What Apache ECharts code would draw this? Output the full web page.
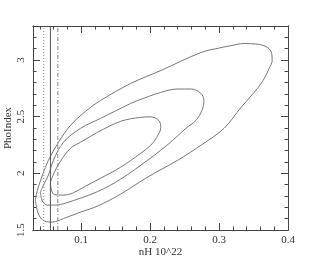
<!DOCTYPE html>
<html>
<head>
<meta charset="utf-8">
<script src="https://cdn.jsdelivr.net/npm/echarts@6/dist/echarts.min.js"></script>
<style>
  html, body { margin: 0; padding: 0; background: #fff; }
  #chart { width: 320px; height: 256px; }
</style>
</head>
<body>
<div id="chart"></div>
<script>
// tick values
var xMajor = [0.1, 0.2, 0.3, 0.4];
var xMinor = [0.04, 0.06, 0.08, 0.12, 0.14, 0.16, 0.18, 0.22, 0.24, 0.26, 0.28, 0.32, 0.34, 0.36, 0.38];
var yMajor = [1.5, 2, 2.5, 3];
var yMinor = [1.6, 1.7, 1.8, 1.9, 2.1, 2.2, 2.3, 2.4, 2.6, 2.7, 2.8, 2.9, 3.1, 3.2];

// best fit and its bounds on nH (dotted, solid, dash-dot)
var nhLines = [0.0456, 0.0553, 0.066];

// confidence contours, [nH, PhoIndex]
var contourOuter = [
  [0.0335, 1.764], [0.0378, 1.641], [0.0466, 1.579], [0.0582, 1.570], [0.0742, 1.601],
  [0.0990, 1.658], [0.1237, 1.711], [0.1572, 1.817], [0.1936, 1.957], [0.2154, 2.032],
  [0.2402, 2.116], [0.2737, 2.248], [0.3071, 2.397], [0.3319, 2.582], [0.3508, 2.714],
  [0.3639, 2.819], [0.3726, 2.925], [0.3770, 2.995], [0.3755, 3.074], [0.3683, 3.118],
  [0.3552, 3.140], [0.3362, 3.145], [0.3173, 3.127], [0.3028, 3.109], [0.2737, 3.066],
  [0.2154, 2.907], [0.1718, 2.793], [0.1281, 2.643], [0.1063, 2.547], [0.0844, 2.423],
  [0.0670, 2.274], [0.0524, 2.116], [0.0437, 1.984], [0.0364, 1.852], [0.0335, 1.764]
];
var contourMiddle = [
  [0.0408, 1.834], [0.0437, 1.755], [0.0509, 1.720], [0.0626, 1.720], [0.0771, 1.737],
  [0.1237, 1.839], [0.1572, 1.949], [0.1965, 2.116], [0.2154, 2.204], [0.2329, 2.292],
  [0.2518, 2.397], [0.2664, 2.467], [0.2751, 2.555], [0.2780, 2.643], [0.2737, 2.705],
  [0.2591, 2.744], [0.2402, 2.744], [0.2154, 2.714], [0.1820, 2.643], [0.1718, 2.617],
  [0.1281, 2.485], [0.0990, 2.397], [0.0742, 2.274], [0.0597, 2.116], [0.0524, 1.984],
  [0.0451, 1.896], [0.0408, 1.834]
];
var contourInner = [
  [0.0553, 1.922], [0.0568, 1.852], [0.0611, 1.812], [0.0728, 1.808], [0.0873, 1.825],
  [0.1063, 1.887], [0.1281, 1.957], [0.1572, 2.054], [0.1863, 2.177], [0.2009, 2.248],
  [0.2096, 2.318], [0.2154, 2.406], [0.2125, 2.467], [0.2009, 2.498], [0.1863, 2.494],
  [0.1572, 2.459], [0.1237, 2.362], [0.0990, 2.274], [0.0844, 2.221], [0.0699, 2.107],
  [0.0611, 2.010], [0.0553, 1.922]
];

var X_MIN = 0.03, X_MAX = 0.4, Y_MIN = 1.5, Y_MAX = 3.3;
var frameColor = '#444';
var serif = '"Liberation Serif", "DejaVu Serif", serif';

function xAxisDef(pos, ticks, len, labels) {
  return {
    type: 'value', position: pos, min: X_MIN, max: X_MAX,
    axisLine: { show: true, onZero: false, lineStyle: { color: frameColor, width: 1 } },
    axisTick: { show: true, inside: true, length: len, customValues: ticks,
      lineStyle: { color: frameColor } },
    axisLabel: labels ? { show: true, customValues: xMajor, margin: 5,
      color: '#333', fontFamily: serif, fontSize: 11,
      formatter: function (v) { return String(+v.toFixed(1)); } } : { show: false },
    splitLine: { show: false }
  };
}

function yAxisDef(pos, ticks, len, labels) {
  return {
    type: 'value', position: pos, min: Y_MIN, max: Y_MAX,
    axisLine: { show: true, onZero: false, lineStyle: { color: frameColor, width: 1 } },
    axisTick: { show: true, inside: true, length: len, customValues: ticks,
      lineStyle: { color: frameColor } },
    axisLabel: labels ? { show: true, customValues: yMajor, rotate: 90, margin: 6,
      color: '#333', fontFamily: serif, fontSize: 11,
      formatter: function (v) { return String(+v.toFixed(1)); } } : { show: false },
    splitLine: { show: false }
  };
}

var xAxes = [
  xAxisDef('bottom', xMajor, 7, true),
  xAxisDef('bottom', xMinor, 3.5, false),
  xAxisDef('top', xMajor, 7, false),
  xAxisDef('top', xMinor, 3.5, false)
];
xAxes[0].name = 'nH 10^22';
xAxes[0].nameLocation = 'middle';
xAxes[0].nameGap = 17;
xAxes[0].nameMoveOverlap = false;
xAxes[0].nameTextStyle = { color: '#333', fontFamily: serif, fontSize: 11 };

var yAxes = [
  yAxisDef('left', yMajor, 7, true),
  yAxisDef('left', yMinor, 3.5, false),
  yAxisDef('right', yMajor, 7, false),
  yAxisDef('right', yMinor, 3.5, false)
];
yAxes[0].name = 'PhoIndex';
yAxes[0].nameLocation = 'middle';
yAxes[0].nameGap = 19;
yAxes[0].nameMoveOverlap = false;
yAxes[0].nameTextStyle = { color: '#333', fontFamily: serif, fontSize: 11 };

var series = [];
[contourOuter, contourMiddle, contourInner].forEach(function (c) {
  series.push({
    type: 'line', data: c, symbol: 'none', smooth: 0.35,
    lineStyle: { color: '#777', width: 1 }
  });
});

var vStyles = [
  { color: '#888', width: 1, type: [1, 2] },
  { color: '#555', width: 1, type: 'solid' },
  { color: '#888', width: 1, type: [4, 2, 1, 2] }
];
nhLines.forEach(function (x, i) {
  series.push({
    type: 'line', data: [[x, Y_MIN], [x, Y_MAX]], symbol: 'none',
    lineStyle: vStyles[i]
  });
});

var chart = echarts.init(document.getElementById('chart'), null, { renderer: 'canvas' });
chart.setOption({
  animation: false,
  backgroundColor: '#fff',
  grid: { left: 33, right: 32, top: 26, bottom: 26, containLabel: false, outerBoundsMode: 'none' },
  xAxis: xAxes,
  yAxis: yAxes,
  series: series
});
</script>
</body>
</html>
